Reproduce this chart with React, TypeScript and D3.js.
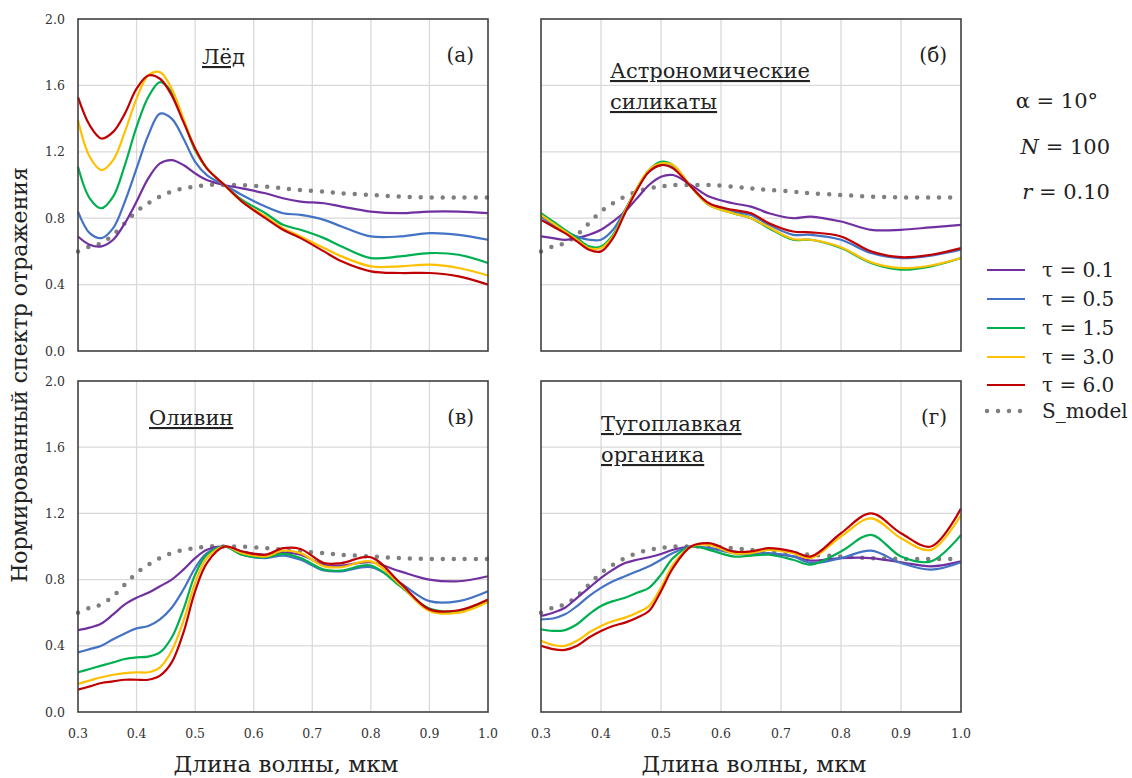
import { useRef, useEffect } from "react";
import * as d3 from "d3";

// wavelengths, мкм
const wl = [0.30, 0.32, 0.34, 0.36, 0.38, 0.40, 0.42, 0.44, 0.46, 0.48, 0.50, 0.52, 0.55, 0.58, 0.62, 0.65, 0.68, 0.72, 0.75, 0.80, 0.85, 0.90, 0.95, 1.00];

const tauLabels = ["τ = 0.1", "τ = 0.5", "τ = 1.5", "τ = 3.0", "τ = 6.0"];
const tauColors = ["#7030A0", "#4472C4", "#00B050", "#FFC000", "#C00000"];

const sModel = [0.60, 0.63, 0.65, 0.70, 0.77, 0.84, 0.89, 0.93, 0.96, 0.98, 0.99, 1.00, 1.00, 1.00, 0.99, 0.98, 0.97, 0.96, 0.95, 0.94, 0.93, 0.925, 0.925, 0.925];

// (а) Лёд
const iceTau01 = [0.69, 0.64, 0.63, 0.67, 0.77, 0.90, 1.04, 1.13, 1.15, 1.12, 1.07, 1.03, 1.00, 0.98, 0.95, 0.92, 0.90, 0.89, 0.87, 0.84, 0.83, 0.84, 0.84, 0.83];
const iceTau05 = [0.84, 0.71, 0.68, 0.74, 0.90, 1.10, 1.30, 1.43, 1.40, 1.28, 1.14, 1.06, 1.00, 0.94, 0.87, 0.83, 0.82, 0.79, 0.75, 0.69, 0.69, 0.71, 0.70, 0.67];
const iceTau15 = [1.11, 0.92, 0.86, 0.93, 1.12, 1.35, 1.53, 1.62, 1.56, 1.39, 1.21, 1.10, 1.00, 0.91, 0.83, 0.76, 0.73, 0.68, 0.63, 0.56, 0.57, 0.59, 0.58, 0.53];
const iceTau30 = [1.39, 1.17, 1.09, 1.15, 1.32, 1.52, 1.66, 1.68, 1.58, 1.40, 1.22, 1.10, 1.00, 0.90, 0.81, 0.74, 0.69, 0.62, 0.57, 0.51, 0.51, 0.52, 0.50, 0.455];
const iceTau60 = [1.53, 1.36, 1.28, 1.32, 1.43, 1.58, 1.66, 1.64, 1.54, 1.38, 1.22, 1.10, 1.00, 0.90, 0.80, 0.73, 0.68, 0.60, 0.54, 0.48, 0.47, 0.47, 0.45, 0.40];

// (б) Астрономические силикаты
const silTau01 = [0.69, 0.68, 0.67, 0.68, 0.70, 0.73, 0.78, 0.84, 0.92, 1.00, 1.05, 1.06, 1.00, 0.93, 0.89, 0.87, 0.83, 0.80, 0.81, 0.78, 0.73, 0.73, 0.745, 0.76];
const silTau05 = [0.81, 0.76, 0.72, 0.69, 0.67, 0.67, 0.73, 0.85, 0.98, 1.08, 1.12, 1.11, 0.99, 0.88, 0.84, 0.82, 0.76, 0.70, 0.70, 0.67, 0.59, 0.56, 0.575, 0.61];
const silTau15 = [0.83, 0.78, 0.73, 0.68, 0.63, 0.63, 0.70, 0.84, 0.98, 1.09, 1.14, 1.12, 0.99, 0.88, 0.83, 0.80, 0.74, 0.67, 0.67, 0.62, 0.53, 0.49, 0.51, 0.56];
const silTau30 = [0.82, 0.77, 0.72, 0.67, 0.62, 0.62, 0.69, 0.84, 0.98, 1.09, 1.13, 1.12, 0.99, 0.88, 0.83, 0.80, 0.745, 0.675, 0.67, 0.625, 0.535, 0.50, 0.515, 0.56];
const silTau60 = [0.79, 0.75, 0.71, 0.66, 0.61, 0.60, 0.68, 0.83, 0.97, 1.08, 1.12, 1.10, 0.99, 0.89, 0.85, 0.83, 0.77, 0.72, 0.715, 0.69, 0.60, 0.565, 0.58, 0.62];

// (в) Оливин
const olTau01 = [0.495, 0.51, 0.535, 0.59, 0.65, 0.69, 0.72, 0.76, 0.80, 0.86, 0.93, 0.98, 1.00, 0.97, 0.95, 0.965, 0.95, 0.89, 0.885, 0.905, 0.85, 0.80, 0.79, 0.82];
const olTau05 = [0.36, 0.38, 0.40, 0.44, 0.475, 0.505, 0.52, 0.56, 0.63, 0.74, 0.87, 0.96, 1.00, 0.95, 0.93, 0.945, 0.92, 0.855, 0.85, 0.875, 0.78, 0.67, 0.67, 0.73];
const olTau15 = [0.24, 0.26, 0.28, 0.30, 0.32, 0.33, 0.335, 0.36, 0.45, 0.62, 0.83, 0.95, 1.00, 0.95, 0.935, 0.955, 0.93, 0.86, 0.855, 0.885, 0.76, 0.625, 0.61, 0.67];
const olTau30 = [0.17, 0.19, 0.21, 0.225, 0.235, 0.24, 0.24, 0.27, 0.37, 0.55, 0.78, 0.93, 1.00, 0.96, 0.94, 0.975, 0.96, 0.88, 0.875, 0.91, 0.77, 0.61, 0.60, 0.665];
const olTau60 = [0.135, 0.155, 0.175, 0.185, 0.195, 0.195, 0.195, 0.22, 0.30, 0.48, 0.73, 0.90, 1.00, 0.97, 0.95, 0.99, 0.985, 0.90, 0.90, 0.935, 0.78, 0.62, 0.615, 0.68];

// (г) Тугоплавкая органика
const orgTau01 = [0.58, 0.60, 0.63, 0.69, 0.75, 0.81, 0.86, 0.90, 0.92, 0.935, 0.955, 0.98, 1.00, 0.99, 0.97, 0.96, 0.955, 0.94, 0.915, 0.93, 0.93, 0.905, 0.88, 0.91];
const orgTau05 = [0.56, 0.565, 0.59, 0.64, 0.70, 0.75, 0.79, 0.82, 0.85, 0.88, 0.92, 0.96, 1.00, 0.99, 0.96, 0.955, 0.96, 0.94, 0.90, 0.93, 0.975, 0.90, 0.86, 0.905];
const orgTau15 = [0.50, 0.49, 0.495, 0.53, 0.59, 0.64, 0.67, 0.69, 0.72, 0.75, 0.83, 0.93, 1.00, 0.98, 0.94, 0.945, 0.95, 0.92, 0.89, 0.97, 1.07, 0.94, 0.91, 1.07];
const orgTau30 = [0.43, 0.405, 0.40, 0.43, 0.48, 0.52, 0.55, 0.57, 0.60, 0.64, 0.75, 0.89, 1.00, 1.01, 0.96, 0.96, 0.98, 0.96, 0.93, 1.06, 1.17, 1.05, 0.98, 1.19];
const orgTau60 = [0.40, 0.38, 0.375, 0.40, 0.45, 0.49, 0.52, 0.54, 0.57, 0.61, 0.73, 0.87, 1.00, 1.02, 0.97, 0.97, 0.99, 0.97, 0.94, 1.08, 1.20, 1.08, 1.00, 1.23];

const xTicks = [0.3, 0.4, 0.5, 0.6, 0.7, 0.8, 0.9, 1.0];
const yTicks = [0.0, 0.4, 0.8, 1.2, 1.6, 2.0];

const FONT = "'DejaVu Serif', 'Liberation Serif', serif";

const panels = [
  { tag: "(a)", title: ["Лёд"], series: [iceTau01, iceTau05, iceTau15, iceTau30, iceTau60],
    box: [78, 488, 19, 351], yLabels: true, xLabels: false, titleX: 202, titleY: 64 },
  { tag: "(б)", title: ["Астрономические", "силикаты"], series: [silTau01, silTau05, silTau15, silTau30, silTau60],
    box: [541, 961, 19, 351], yLabels: false, xLabels: false, titleX: 610, titleY: 78 },
  { tag: "(в)", title: ["Оливин"], series: [olTau01, olTau05, olTau15, olTau30, olTau60],
    box: [78, 488, 381, 712], yLabels: true, xLabels: true, titleX: 149, titleY: 425 },
  { tag: "(г)", title: ["Тугоплавкая", "органика"], series: [orgTau01, orgTau05, orgTau15, orgTau30, orgTau60],
    box: [541, 961, 381, 712], yLabels: false, xLabels: true, titleX: 601, titleY: 431 },
];

export default function App() {
  const ref = useRef<SVGSVGElement>(null);

  useEffect(() => {
    const svg = d3.select(ref.current);
    svg.selectAll("*").remove();

    panels.forEach((p) => {
      const [x0, x1, y0, y1] = p.box;
      const x = d3.scaleLinear().domain([0.3, 1.0]).range([x0, x1]);
      const y = d3.scaleLinear().domain([0, 2]).range([y1, y0]);
      const g = svg.append("g");

      // grid
      g.selectAll("line.gx").data(xTicks.slice(1, -1)).join("line")
        .attr("x1", (d) => x(d)).attr("x2", (d) => x(d))
        .attr("y1", y0).attr("y2", y1)
        .attr("stroke", "#d9d9d9").attr("stroke-width", 1.3);
      g.selectAll("line.gy").data(yTicks.slice(1, -1)).join("line")
        .attr("y1", (d) => y(d)).attr("y2", (d) => y(d))
        .attr("x1", x0).attr("x2", x1)
        .attr("stroke", "#d9d9d9").attr("stroke-width", 1.3);

      // lines
      const line = d3.line<number>()
        .x((_, i) => x(wl[i]))
        .y((d) => y(d))
        .curve(d3.curveCatmullRom.alpha(0.5));

      g.append("path").datum(sModel)
        .attr("d", line).attr("fill", "none")
        .attr("stroke", "#7f7f7f").attr("stroke-width", 4.5)
        .attr("stroke-linecap", "round").attr("stroke-dasharray", "0 11");

      p.series.forEach((s, i) => {
        g.append("path").datum(s)
          .attr("d", line).attr("fill", "none")
          .attr("stroke", tauColors[i]).attr("stroke-width", 2.2);
      });

      // frame
      g.append("rect")
        .attr("x", x0).attr("y", y0).attr("width", x1 - x0).attr("height", y1 - y0)
        .attr("fill", "none").attr("stroke", "#404040").attr("stroke-width", 1.6);

      if (p.yLabels) {
        g.selectAll("text.yt").data(yTicks).join("text")
          .attr("x", x0 - 13).attr("y", (d) => y(d) + 4.5)
          .attr("text-anchor", "end").attr("font-family", FONT)
          .attr("font-size", 12.5).attr("fill", "#333")
          .text((d) => d.toFixed(1));
      }
      if (p.xLabels) {
        g.selectAll("text.xt").data(xTicks).join("text")
          .attr("x", (d) => x(d)).attr("y", y1 + 26)
          .attr("text-anchor", "middle").attr("font-family", FONT)
          .attr("font-size", 12.5).attr("fill", "#333")
          .text((d) => d.toFixed(1));
        g.append("text")
          .attr("x", (x0 + x1) / 2 + 3).attr("y", y1 + 60)
          .attr("text-anchor", "middle").attr("font-family", FONT)
          .attr("font-size", 23).attr("fill", "#222")
          .text("Длина волны, мкм");
      }

      // panel titles
      p.title.forEach((t, i) => {
        g.append("text")
          .attr("x", p.titleX).attr("y", p.titleY + i * 31)
          .attr("font-family", FONT).attr("font-size", 21)
          .attr("fill", "#222").attr("text-decoration", "underline")
          .text(t);
      });
      g.append("text")
        .attr("x", x1 - 14).attr("y", y0 + 43)
        .attr("text-anchor", "end").attr("font-family", FONT)
        .attr("font-size", 20).attr("fill", "#222")
        .text(p.tag);
    });

    // y axis title
    svg.append("text")
      .attr("transform", "translate(27,375) rotate(-90)")
      .attr("text-anchor", "middle").attr("font-family", FONT)
      .attr("font-size", 22).attr("fill", "#222")
      .text("Нормированный спектр отражения");

    // parameters
    const params = svg.append("g").attr("font-family", FONT).attr("font-size", 21).attr("fill", "#222");
    params.append("text").attr("x", 1098).attr("y", 108).attr("text-anchor", "end").text("α = 10°");
    const tN = params.append("text").attr("x", 1110).attr("y", 154).attr("text-anchor", "end");
    tN.append("tspan").attr("font-style", "italic").text("N");
    tN.append("tspan").text(" = 100");
    const tR = params.append("text").attr("x", 1110).attr("y", 199).attr("text-anchor", "end");
    tR.append("tspan").attr("font-style", "italic").text("r");
    tR.append("tspan").text(" = 0.10");

    // legend
    const legendY = [270, 299, 328, 357, 385];
    const leg = svg.append("g");
    tauLabels.forEach((lab, i) => {
      leg.append("line")
        .attr("x1", 987).attr("x2", 1025).attr("y1", legendY[i]).attr("y2", legendY[i])
        .attr("stroke", tauColors[i]).attr("stroke-width", 2.2);
      leg.append("text")
        .attr("x", 1042).attr("y", legendY[i] + 7)
        .attr("font-family", FONT).attr("font-size", 20).attr("fill", "#222")
        .text(lab);
    });
    leg.append("line")
      .attr("x1", 987).attr("x2", 1026).attr("y1", 411).attr("y2", 411)
      .attr("stroke", "#7f7f7f").attr("stroke-width", 4.5)
      .attr("stroke-linecap", "round").attr("stroke-dasharray", "0 11");
    leg.append("text")
      .attr("x", 1042).attr("y", 418)
      .attr("font-family", FONT).attr("font-size", 20).attr("fill", "#222")
      .text("S_model");
  }, []);

  return (
    <svg ref={ref} width={1132} height={778}
      style={{ position: "absolute", left: 0, top: 0, background: "#fff" }} />
  );
}
